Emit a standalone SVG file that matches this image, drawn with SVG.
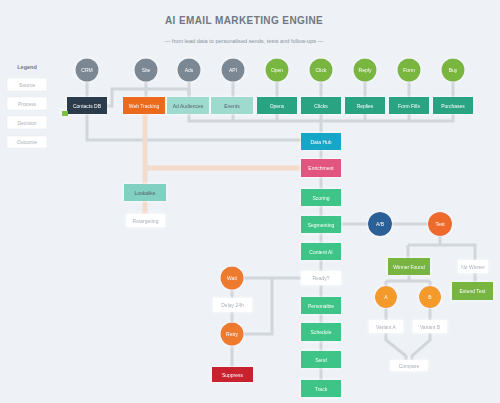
<svg xmlns="http://www.w3.org/2000/svg" width="500" height="403" viewBox="0 0 500 403">
<defs>
<filter id="glow" x="-30%" y="-50%" width="160%" height="200%">
<feDropShadow dx="0" dy="0" stdDeviation="1.6" flood-color="#ffffff" flood-opacity="1"/>
</filter>
<style>
text{font-family:"Liberation Sans",Arial,sans-serif;text-anchor:middle;dominant-baseline:central}
.t{font-size:5px;fill:#ffffff}
.td{font-size:5px;fill:#55606b}
.tw{font-size:5px;fill:#a8afb7}
.c{stroke:#d0d6dc;stroke-width:3;fill:none}
.o{stroke:#f4dccd;stroke-width:5;fill:none}
.node{filter:url(#glow)}
.wb{fill:#ffffff}
.gc{fill:#7b8794}
.lc{fill:#78b63f}
.tb{fill:#2aa383}
.mg{fill:#3cc486}
.lg{fill:#ffffff;stroke:#e8ecf0;stroke-width:0.6}
</style>
</defs>
<rect width="500" height="403" fill="#eef2f6"/>
<text x="244" y="20" style="font-size:10px;font-weight:bold;fill:#6f7882;letter-spacing:0.4px">AI EMAIL MARKETING ENGINE</text>
<text x="244" y="41" style="font-size:5.6px;fill:#8a939c">— from lead data to personalised sends, tests and follow-ups —</text>

<g id="legend">
<text x="27" y="67" style="font-size:5.5px;fill:#6f7882;font-weight:bold">Legend</text>
<rect class="lg" x="7" y="78" width="40" height="13" rx="1.5"/><text class="tw" x="27" y="84.5">Source</text>
<rect class="lg" x="7" y="97" width="40" height="13" rx="1.5"/><text class="tw" x="27" y="103.5">Process</text>
<rect class="lg" x="7" y="116" width="40" height="13" rx="1.5"/><text class="tw" x="27" y="122.5">Decision</text>
<rect class="lg" x="7" y="136" width="40" height="12" rx="1.5"/><text class="tw" x="27" y="142">Outcome</text>
</g>

<g id="connectors">
<path class="c" d="M87 70V97M146 70V97M189 70V97M233 70V97M277 70V97M321 70V97M365 70V97M409 70V97M453 70V97"/>
<path class="c" d="M107 106H112V89H189V97"/>
<path class="c" d="M87 114V140H301"/>
<path class="c" d="M189 114V121H453V114M233 114V121M277 114V121M365 114V121M409 114V121M321 114V380"/>
<path class="o" d="M145 114V168H301M145 168V214"/>
<path class="c" d="M341 224H440V245M408 245H475V282M408 245V262"/>
<path class="c" d="M409 275V281M386 281H430M386 281V320M430 281V320"/>
<path class="c" d="M386 333V340L406 356V362M430 333V340L412 356V362"/>
<path class="c" d="M301 278H232V367M272 278V334H232"/>
</g>

<g id="n-crm" class="node"><circle class="gc" cx="87" cy="70" r="11.5"/><text class="t" x="87" y="70">CRM</text></g>
<g id="n-site" class="node"><circle class="gc" cx="146" cy="70" r="11.5"/><text class="t" x="146" y="70">Site</text></g>
<g id="n-ads" class="node"><circle class="gc" cx="189" cy="70" r="11.5"/><text class="t" x="189" y="70">Ads</text></g>
<g id="n-api" class="node"><circle class="gc" cx="233" cy="70" r="11.5"/><text class="t" x="233" y="70">API</text></g>
<g id="n-open" class="node"><circle class="lc" cx="277" cy="70" r="11.5"/><text class="t" x="277" y="70">Open</text></g>
<g id="n-click" class="node"><circle class="lc" cx="321" cy="70" r="11.5"/><text class="t" x="321" y="70">Click</text></g>
<g id="n-reply" class="node"><circle class="lc" cx="365" cy="70" r="11.5"/><text class="t" x="365" y="70">Reply</text></g>
<g id="n-form" class="node"><circle class="lc" cx="409" cy="70" r="11.5"/><text class="t" x="409" y="70">Form</text></g>
<g id="n-buy" class="node"><circle class="lc" cx="453" cy="70" r="11.5"/><text class="t" x="453" y="70">Buy</text></g>

<g id="b-contacts" class="node"><rect x="67" y="97" width="40" height="17" fill="#2c3a4c"/><rect x="62" y="111" width="6" height="5" fill="#7cc043"/><text class="t" x="87" y="105.5">Contacts DB</text></g>
<g id="b-web" class="node"><rect x="123" y="97" width="42" height="17" fill="#ec6a1f"/><text class="t" x="144" y="105.5">Web Tracking</text></g>
<g id="b-aud" class="node"><rect x="167" y="97" width="42" height="17" fill="#9fdacf"/><text class="td" x="188" y="105.5">Ad Audiences</text></g>
<g id="b-events" class="node"><rect x="211" y="97" width="42" height="17" fill="#9fdacf"/><text class="td" x="232" y="105.5">Events</text></g>
<g id="b-opens" class="node"><rect class="tb" x="257" y="97" width="40" height="17"/><text class="t" x="277" y="105.5">Opens</text></g>
<g id="b-clicks" class="node"><rect class="tb" x="301" y="97" width="40" height="17"/><text class="t" x="321" y="105.5">Clicks</text></g>
<g id="b-replies" class="node"><rect class="tb" x="345" y="97" width="40" height="17"/><text class="t" x="365" y="105.5">Replies</text></g>
<g id="b-forms" class="node"><rect class="tb" x="389" y="97" width="40" height="17"/><text class="t" x="409" y="105.5">Form Fills</text></g>
<g id="b-purch" class="node"><rect class="tb" x="433" y="97" width="40" height="17"/><text class="t" x="453" y="105.5">Purchases</text></g>

<g id="b-hub" class="node"><rect x="301" y="133" width="40" height="17" fill="#18a6c8"/><text class="t" x="321" y="141.5">Data Hub</text></g>
<g id="b-enrich" class="node"><rect x="301" y="159" width="40" height="18" fill="#e2557f"/><text class="t" x="321" y="168">Enrichment</text></g>
<g id="b-score" class="node"><rect class="mg" x="301" y="189" width="40" height="17"/><text class="t" x="321" y="197.5">Scoring</text></g>
<g id="b-seg" class="node"><rect class="mg" x="301" y="216" width="40" height="17"/><text class="t" x="321" y="224.5">Segmenting</text></g>
<g id="b-content" class="node"><rect class="mg" x="301" y="243" width="40" height="17"/><text class="t" x="321" y="251.5">Content AI</text></g>
<g id="b-ready" class="node"><rect class="wb" x="301" y="271" width="40" height="14"/><text class="tw" x="321" y="278">Ready?</text></g>
<g id="b-pers" class="node"><rect class="mg" x="301" y="297" width="40" height="17"/><text class="t" x="321" y="305.5">Personalize</text></g>
<g id="b-sched" class="node"><rect class="mg" x="301" y="323" width="40" height="18"/><text class="t" x="321" y="332">Schedule</text></g>
<g id="b-send" class="node"><rect class="mg" x="301" y="351" width="40" height="17"/><text class="t" x="321" y="359.5">Send</text></g>
<g id="b-track" class="node"><rect class="mg" x="301" y="380" width="40" height="17"/><text class="t" x="321" y="388.5">Track</text></g>

<g id="b-look" class="node"><rect x="124" y="184" width="42" height="17" fill="#82d0c1"/><text class="td" x="145" y="192.5">Lookalike</text></g>
<g id="b-retarget" class="node"><rect class="wb" x="126" y="214" width="39" height="13"/><text class="tw" x="145.5" y="220.5">Retargeting</text></g>

<g id="n-ab" class="node"><circle cx="380" cy="224" r="12" fill="#2c5f98"/><text class="t" x="380" y="224">A/B</text></g>
<g id="n-test" class="node"><circle cx="440" cy="224" r="12" fill="#ee6a2a"/><text class="t" x="440" y="224">Test</text></g>
<g id="b-winner" class="node"><rect x="388" y="258" width="42" height="17" fill="#78b443"/><text class="t" x="409" y="266.5">Winner Found</text></g>
<g id="b-nowin" class="node"><rect class="wb" x="458" y="260" width="30" height="13"/><text class="tw" x="473" y="266.5">No Winner</text></g>
<g id="b-extend" class="node"><rect x="452" y="282" width="41" height="18" fill="#78b443"/><text class="t" x="472.5" y="291">Extend Test</text></g>
<g id="n-a" class="node"><circle cx="386" cy="297" r="11" fill="#f39a2c"/><text class="t" x="386" y="297">A</text></g>
<g id="n-b" class="node"><circle cx="430" cy="297" r="11" fill="#f39a2c"/><text class="t" x="430" y="297">B</text></g>
<g id="b-va" class="node"><rect class="wb" x="369" y="320" width="34" height="13"/><text class="tw" x="386" y="326.5">Variant A</text></g>
<g id="b-vb" class="node"><rect class="wb" x="413" y="320" width="34" height="13"/><text class="tw" x="430" y="326.5">Variant B</text></g>
<g id="b-compare" class="node"><rect class="wb" x="390" y="360" width="38" height="11"/><text class="tw" x="409" y="365.5">Compare</text></g>

<g id="n-wait" class="node"><circle cx="232" cy="278" r="11.5" fill="#ee7a2e"/><text class="t" x="232" y="278">Wait</text></g>
<g id="b-delay" class="node"><rect class="wb" x="213" y="298" width="39" height="14"/><text class="tw" x="232.5" y="305">Delay 24h</text></g>
<g id="n-retry" class="node"><circle cx="232" cy="334" r="11.5" fill="#ee7a2e"/><text class="t" x="232" y="334">Retry</text></g>
<g id="b-supp" class="node"><rect x="212" y="367" width="41" height="15" fill="#c8212f"/><text class="t" x="232.5" y="374.5">Suppress</text></g>
</svg>
